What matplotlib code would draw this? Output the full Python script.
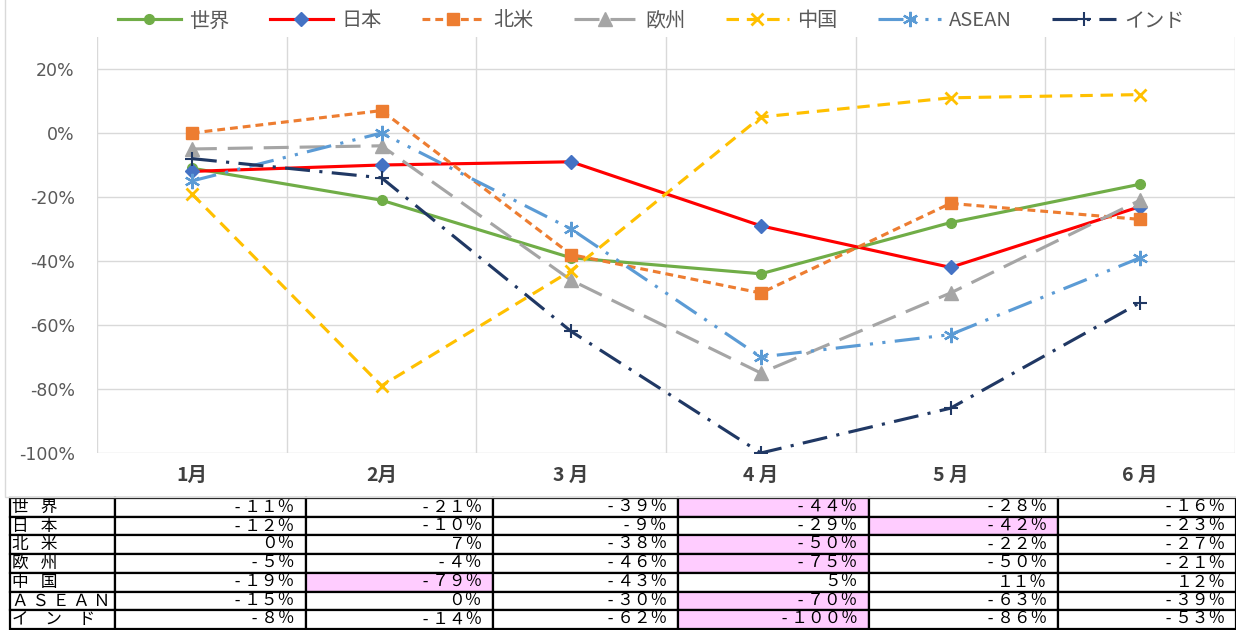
import matplotlib
matplotlib.use("Agg")
import matplotlib.pyplot as plt
from matplotlib.patches import Rectangle
import numpy as np

plt.rcParams['font.family'] = ['Noto Sans CJK JP', 'DejaVu Sans']

# data (% change vs previous year)
months = ["1月", "2月", "3 月", "4 月", "5 月", "6 月"]
names = ["世界", "日本", "北米", "欧州", "中国", "ASEAN", "インド"]
table_labels = ["世 \u2002界", "日 \u2002本", "北 \u2002米", "欧 \u2002州", "中 \u2002国",
                "Ａ Ｓ Ｅ Ａ Ｎ", "イ　ン　ド"]

world = [-11, -21, -39, -44, -28, -16]
japan = [-12, -10, -9, -29, -42, -23]
north_america = [0, 7, -38, -50, -22, -27]
europe = [-5, -4, -46, -75, -50, -21]
china = [-19, -79, -43, 5, 11, 12]
asean = [-15, 0, -30, -70, -63, -39]
india = [-8, -14, -62, -100, -86, -53]

series = [world, japan, north_america, europe, china, asean, india]

styles = [
    dict(color="#70AD47", mfc="#70AD47", mec="#70AD47", marker="o", ms=7, ls="-"),
    dict(color="#FF0000", mfc="#4472C4", mec="#4472C4", marker="D", ms=7.5, ls="-"),
    dict(color="#ED7D31", mfc="#ED7D31", mec="#ED7D31", marker="s", ms=8, ls=(0, (2.5, 1.6))),
    dict(color="#A5A5A5", mfc="#A5A5A5", mec="#A5A5A5", marker="^", ms=10, ls=(0, (8, 3.5))),
    dict(color="#FFC000", mfc="#FFC000", mec="#FFC000", marker="x", ms=9, mew=2, ls=(0, (4, 2.5))),
    dict(color="#5B9BD5", mfc="#5B9BD5", mec="#5B9BD5", marker=(6, 2, 0), ms=11, mew=1.6,
         ls=(0, (8, 3, 1, 3, 1, 3))),
    dict(color="#203864", mfc="#203864", mec="#203864", marker="+", ms=10, mew=1.5,
         ls=(0, (8, 3, 1, 3))),
]

fig = plt.figure(figsize=(12.36, 6.30), dpi=100)

# light chart-area frame
fig.patches.append(Rectangle((5 / 1236, 1 - 497 / 630), 1.1, 0.9, transform=fig.transFigure,
                             fill=False, edgecolor="#D9D9D9", linewidth=1))

ax = fig.add_axes([97 / 1236, 1 - 453 / 630, 1138 / 1236, 416 / 630])
x = np.arange(len(months)) + 0.5
for name, vals, st in zip(names, series, styles):
    ax.plot(x, vals, label=name, linewidth=2.25, **st)

ax.set_xlim(0, len(months))
ax.set_ylim(-100, 30)
ax.set_yticks(range(-100, 21, 20))
ax.set_yticklabels([f"{v}%" for v in range(-100, 21, 20)], family="DejaVu Sans",
                   fontsize=12.5, color="#595959")
ax.set_xticks(x)
ax.set_xticklabels(months, fontsize=14, fontweight="bold", color="#404040")
ax.set_xticks(np.arange(len(months) + 1), minor=True)
ax.tick_params(axis="both", which="both", length=0)
ax.tick_params(axis="y", pad=16)
ax.tick_params(axis="x", pad=9)
ax.grid(True, axis="y", which="major", color="#D9D9D9", linewidth=1)
ax.grid(True, axis="x", which="minor", color="#D9D9D9", linewidth=1)
for s in ax.spines.values():
    s.set_visible(False)
ax.set_axisbelow(True)

leg = fig.legend(loc="center", bbox_to_anchor=(651 / 1236, 1 - 21 / 630), ncol=7, frameon=False,
                 fontsize=14.5, handlelength=3.15, columnspacing=2.0, handletextpad=0.4)
for t in leg.get_texts():
    t.set_color("#595959")

# table below the chart
ax_t = fig.add_axes([10 / 1236, 1 / 630, 1226 / 1236, 131 / 630])
ax_t.axis("off")


def fw(v):
    s = str(abs(v)).translate(str.maketrans("0123456789", "０１２３４５６７８９")) + "％"
    return (" - " if v < 0 else "") + s


cell_text = []
cell_colors = []
for lab, vals in zip(table_labels, series):
    cell_text.append([lab] + [fw(v) for v in vals])
    mn = min(vals)
    cell_colors.append(["white"] + ["#FFCCFF" if v == mn else "white" for v in vals])

col_w = [105, 191, 187, 185, 191, 189, 178]
tbl = ax_t.table(cellText=cell_text, cellColours=cell_colors, colWidths=col_w,
                 cellLoc="right", bbox=[0, 0, 1, 1])
tbl.auto_set_font_size(False)
tbl.set_fontsize(12)
for (r, c), cell in tbl.get_celld().items():
    cell.set_edgecolor("black")
    cell.set_linewidth(1.6)
    if c == 0:
        cell.PAD = 0.02
        cell.get_text().set_horizontalalignment("left")
    else:
        cell.PAD = 0.06

fig.savefig("out.png", dpi=100)
